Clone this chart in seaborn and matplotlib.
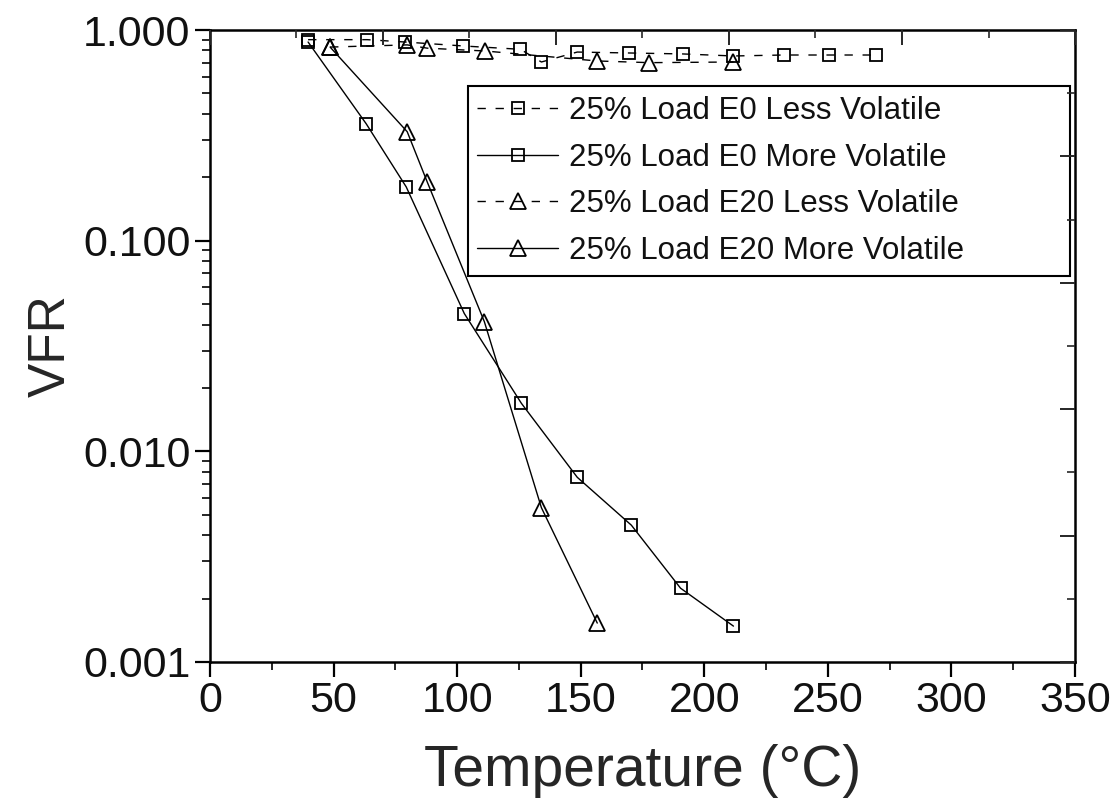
import matplotlib
matplotlib.use('Agg')
import matplotlib.pyplot as plt
import seaborn as sns
import pandas as pd
from matplotlib.ticker import MultipleLocator, FixedLocator, FormatStrFormatter, LogLocator, NullFormatter

# ---- data ----
e0_less_T = [39.7, 63.6, 79.0, 102.5, 125.6, 134.1, 148.6, 169.7, 191.2, 211.8, 232.1, 250.3, 269.3]
e0_less_V = [0.90, 0.90, 0.877, 0.84, 0.81, 0.705, 0.786, 0.778, 0.77, 0.753, 0.761, 0.761, 0.761]

e0_more_T = [39.7, 63.2, 79.4, 102.9, 126.0, 148.6, 170.5, 190.4, 211.8]
e0_more_V = [0.877, 0.359, 0.180, 0.0451, 0.0169, 0.00753, 0.00446, 0.00224, 0.00148]

e20_less_T = [48.6, 79.8, 87.9, 111.4, 156.7, 177.8, 211.8]
e20_less_V = [0.83, 0.85, 0.82, 0.795, 0.713, 0.70, 0.705]

e20_more_T = [48.6, 79.8, 87.9, 111.0, 134.1, 156.7]
e20_more_V = [0.83, 0.329, 0.19, 0.0413, 0.0054, 0.00153]

labels = ["25% Load E0 Less Volatile", "25% Load E0 More Volatile",
          "25% Load E20 Less Volatile", "25% Load E20 More Volatile"]
x_ticks = [0, 50, 100, 150, 200, 250, 300, 350]
y_ticks = [0.001, 0.01, 0.1, 1.0]

sns.set_style('ticks')
plt.rcParams['font.family'] = ['Liberation Sans', 'DejaVu Sans']
plt.rcParams['text.color'] = '#111111'

fig = plt.figure(figsize=(11.11, 8.07), dpi=100)
ax = fig.add_axes([0.189, 0.1797, 0.7786, 0.7831])

series = [
    (e0_less_T, e0_less_V, labels[0], 's', (0, (6, 7))),
    (e0_more_T, e0_more_V, labels[1], 's', '-'),
    (e20_less_T, e20_less_V, labels[2], '^', (0, (6, 7))),
    (e20_more_T, e20_more_V, labels[3], '^', '-'),
]
for T, V, lab, mk, ls in series:
    df = pd.DataFrame({'T': T, 'V': V})
    ms = 8.5 if mk == 's' else 11.5
    sns.lineplot(data=df, x='T', y='V', ax=ax, sort=False, estimator=None,
                 color='black', linewidth=1.0, linestyle=ls, marker=mk,
                 markersize=ms, markerfacecolor='none', markeredgecolor='black',
                 markeredgewidth=1.3, label=lab)

ax.set_yscale('log')
ax.set_xlim(0, 350)
ax.set_ylim(0.001, 1.0)
ax.xaxis.set_major_locator(FixedLocator(x_ticks))
ax.xaxis.set_minor_locator(MultipleLocator(25))
ax.yaxis.set_major_locator(FixedLocator(y_ticks))
ax.yaxis.set_major_formatter(FormatStrFormatter('%.3f'))
ax.yaxis.set_minor_locator(LogLocator(base=10, subs=range(2, 10)))
ax.yaxis.set_minor_formatter(NullFormatter())
ax.tick_params(axis='both', which='major', direction='out', length=11, width=1.6,
               labelsize=31, pad=3, colors='black', labelcolor='#111111')
ax.tick_params(axis='both', which='minor', direction='out', length=6, width=1.4)
for sp in ax.spines.values():
    sp.set_linewidth(1.8)
    sp.set_color('black')

ax.set_xlabel('Temperature (°C)', fontsize=41, labelpad=16)
ax.set_ylabel('VFR', fontsize=37, labelpad=5)

# top and right secondary tick marks (no labels)
axt = ax.twiny()
axt.set_xlim(0, 350)
axt.xaxis.set_major_locator(MultipleLocator(70))
axt.xaxis.set_minor_locator(MultipleLocator(35))
axt.tick_params(axis='x', which='major', direction='in', length=11, width=1.4, labeltop=False)
axt.tick_params(axis='x', which='minor', direction='in', length=6, width=1.2)
axr = ax.twinx()
axr.set_ylim(0, 1)
axr.yaxis.set_major_locator(MultipleLocator(0.2))
axr.yaxis.set_minor_locator(MultipleLocator(0.1))
axr.tick_params(axis='y', which='major', direction='in', length=11, width=1.4, labelright=False)
axr.tick_params(axis='y', which='minor', direction='in', length=6, width=1.2)
for a in (axt, axr):
    for sp in a.spines.values():
        sp.set_visible(False)

leg = ax.legend(loc='upper left', bbox_to_anchor=(0.298, 0.911, 0.696, 0.0),
                mode='expand', fontsize=22.5, frameon=True, fancybox=False,
                edgecolor='black', framealpha=1, handlelength=2.6, handletextpad=0.35,
                labelspacing=0.54, borderpad=0.3, borderaxespad=0)
leg.get_frame().set_linewidth(1.5)
leg.set_zorder(10)

fig.savefig('out.png', dpi=100)
